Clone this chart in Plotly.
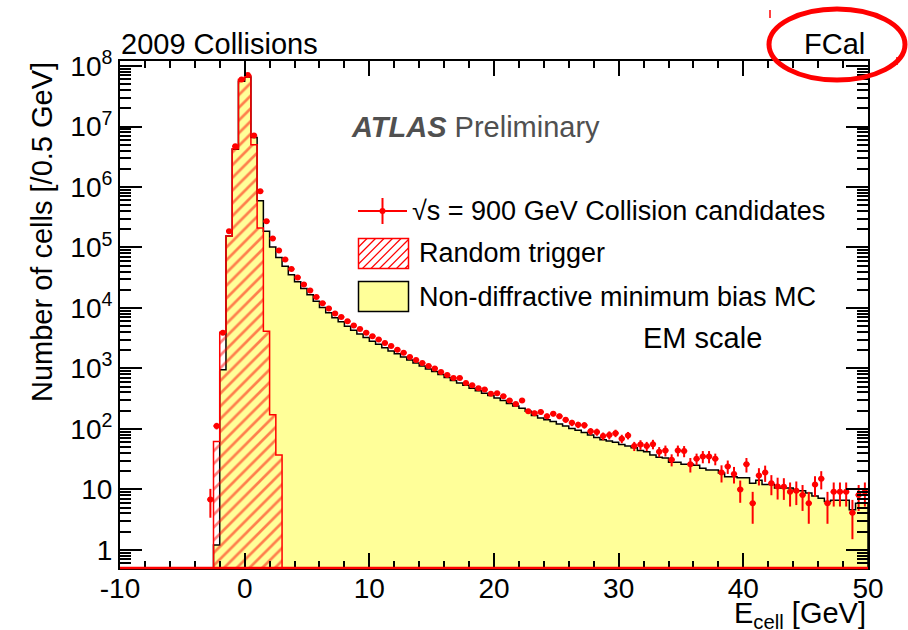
import numpy as np
import plotly.graph_objects as go

# ---------------- data ----------------
bin_width = 0.5

# Collision candidates, bins from -3.0 GeV to 50 GeV (0.5 GeV wide)
data_first_low = -3.0
data_counts = [
    6.8, 112, 3900, 1.86e5, 4.7e6, 6.0e7, 7.1e7, 7.1e6,
    8.5e5, 2.7e5, 1.41e5, 8.9e4, 6.3e4, 4.4e4, 3.2e4, 2.45e4, 1.95e4, 1.51e4,
    1.2e4, 9800, 8100, 7100, 6000, 5100, 4500, 3900, 3400, 3000,
    2630, 2340, 2040, 1820, 1550, 1380, 1230, 1100, 1000, 870,
    776, 692, 692, 575, 525, 468, 447, 380, 389, 347,
    295, 257, 295, 195, 182, 191, 162, 178, 162, 141,
    126, 117, 115, 91, 89, 76, 79, 85, 69, 78,
    52, 55, 52, 56, 42, 44, 31, 44, 43, 26,
    32, 35, 35, 32, 19, 24, 18, 10, 26, 5.9,
    17, 19, 12.6, 11.2, 11, 9.1, 9.5, 8.1, 5.9, 12,
    15, 5.9, 9.1, 9.1, 9.1, 4.1, 8.1, 9.1,
]
data_errors = [
    3.4, 14, 0, 0, 0, 0, 0, 0,
    0, 0, 0, 0, 0, 0, 0, 0, 0, 0,
    0, 0, 0, 0, 0, 0, 0, 0, 0, 0,
    0, 0, 0, 0, 0, 0, 0, 0, 0, 0,
    0, 0, 0, 0, 0, 0, 0, 0, 0, 0,
    22, 21, 22, 18, 18, 18, 17, 17, 17, 15,
    15, 14, 14, 12, 12, 11, 12, 12, 11, 11,
    9, 10, 9, 10, 8, 9, 7, 9, 9, 7,
    7, 8, 8, 7, 6, 6, 5.5, 4, 7, 3.2,
    5.4, 5.7, 4.6, 4.4, 4.3, 3.9, 4, 3.7, 3.2, 4.5,
    5, 3.2, 3.9, 3.9, 3.9, 2.6, 3.7, 3.9,
]

# Non-diffractive minimum bias MC, bins from -2.5 GeV to 50 GeV
mc_first_low = -2.5
mc_counts = [
    1.2, 950, 1.55e5, 4.2e6, 5.6e7, 6.6e7, 6.6e6,
    5.9e5, 1.86e5, 1.02e5, 6.8e4, 4.9e4, 3.55e4, 2.7e4, 2.09e4, 1.66e4, 1.29e4,
    1.02e4, 8300, 6900, 5900, 5000, 4270, 3720, 3240, 2820, 2510,
    2190, 1950, 1740, 1550, 1380, 1230, 1100, 977, 891, 794,
    708, 631, 575, 525, 468, 427, 389, 355, 324, 295,
    263, 240, 219, 195, 166, 151, 141, 132, 120, 112,
    102, 95, 87, 79, 72, 66, 63, 60, 55, 52,
    49, 44, 42, 37, 34, 33, 28, 28, 26, 26,
    25, 22.4, 21, 21, 18.6, 16.2, 16.2, 15.5, 15.5, 12.6,
    14.1, 12, 12, 10.5, 10.5, 10.5, 9.5, 9.5, 8.7, 7.8,
    7.1, 6.3, 6.6, 6.6, 6.6, 4.6, 5.9, 5.9,
]

# Random trigger, bins from -2.5 GeV to 3.0 GeV
rt_first_low = -2.5
rt_counts = [62, 3960, 1.55e5, 4.3e6, 6.0e7, 7.0e7, 5.0e6, 2.1e5, 4100, 172, 37]

x_tick_values = [-10, 0, 10, 20, 30, 40, 50]
x_tick_labels = ["-10", "0", "10", "20", "30", "40", "50"]
y_tick_values = [1, 10, 1e2, 1e3, 1e4, 1e5, 1e6, 1e7, 1e8]
y_tick_labels = ["1", "10", "10<sup>2</sup>", "10<sup>3</sup>", "10<sup>4</sup>",
                 "10<sup>5</sup>", "10<sup>6</sup>", "10<sup>7</sup>", "10<sup>8</sup>"]

# ---------------- styling helpers ----------------
FONT = "Liberation Sans, Arial, Helvetica, sans-serif"
YELLOW = "#ffff99"
RED = "#ff0000"

W, H = 908, 630
L, R, T, B = 120, 40, 61, 62
PW, PH = W - L - R, H - T - B


def px(x):  # pixel x -> paper
    return (x - L) / PW


def py(y):  # pixel y -> paper
    return (H - B - y) / PH


def step_outline(first_low, counts, floor=0.05):
    vals = list(counts)
    n = len(vals)
    edges = first_low + bin_width * np.arange(n + 1)
    xs = [edges[0]] + list(edges[:n]) + [edges[n], edges[n]]
    ys = [floor] + vals + [vals[-1], floor]
    return xs, ys


fig = go.Figure()

# MC filled histogram
mx, my = step_outline(mc_first_low, mc_counts)
fig.add_trace(go.Scatter(x=mx, y=my, mode="lines", line=dict(shape="hv", color="black", width=1.5),
                         fill="toself", fillcolor=YELLOW, hoverinfo="skip"))

# Random trigger hatched histogram
rx, ry = step_outline(rt_first_low, rt_counts)
fig.add_trace(go.Scatter(x=rx, y=ry, mode="lines", line=dict(shape="hv", color=RED, width=1.5),
                         fill="toself", fillcolor="rgba(0,0,0,0)",
                         fillpattern=dict(shape="/", fgcolor=RED, bgcolor="rgba(0,0,0,0)",
                                          size=9, solidity=0.3),
                         hoverinfo="skip"))

# Data points
data_centers = data_first_low + bin_width * (np.arange(len(data_counts)) + 0.5)
fig.add_trace(go.Scatter(
    x=data_centers, y=data_counts, mode="markers",
    marker=dict(symbol="circle", size=6, color=RED),
    error_y=dict(type="data", array=data_errors, color=RED, thickness=2, width=0),
    error_x=dict(type="constant", value=0.25, color=RED, thickness=2, width=0),
))

minor_vals = [m * 10.0 ** e for e in range(-1, 9) for m in range(2, 10)]
tickfont = dict(family=FONT, size=28, color="black")

fig.update_layout(
    width=W, height=H, margin=dict(l=L, r=R, t=T, b=B),
    paper_bgcolor="white", plot_bgcolor="white", showlegend=False,
    xaxis=dict(range=[-10, 50], tickmode="array", tickvals=x_tick_values, ticktext=x_tick_labels,
               ticks="inside", ticklen=15, tickwidth=1.5, ticklabelstandoff=-6,
               tickcolor="black", showline=True, linecolor="black", linewidth=2, mirror="ticks",
               showgrid=False, zeroline=False, tickfont=tickfont,
               minor=dict(ticks="inside", dtick=2, tick0=0, ticklen=7, tickwidth=1.5, tickcolor="black",
                          showgrid=False)),
    yaxis=dict(type="log", range=[-0.30, 8.083], tickmode="array", tickvals=y_tick_values,
               ticktext=y_tick_labels, ticks="inside", ticklen=22, tickwidth=1.5, tickcolor="black",
               showline=True, linecolor="black", linewidth=2, mirror="ticks", showgrid=False,
               zeroline=False, tickfont=tickfont,
               minor=dict(ticks="inside", tickmode="array", tickvals=minor_vals, ticklen=11,
                          tickwidth=1.5, tickcolor="black", showgrid=False)),
)

shapes = []
# red line along the bottom of the frame
shapes.append(dict(type="line", xref="paper", yref="paper", x0=0, x1=1, y0=0, y1=0,
                   line=dict(color=RED, width=2.5), layer="above"))
# red highlight ellipse around "FCal"
shapes.append(dict(type="circle", xref="paper", yref="paper", x0=px(769), x1=px(905),
                   y0=py(80), y1=py(9), line=dict(color=RED, width=5)))
shapes.append(dict(type="line", xref="paper", yref="paper", x0=px(770), x1=px(770),
                   y0=py(10), y1=py(18), line=dict(color=RED, width=1.5)))
shapes.append(dict(type="line", xref="paper", yref="paper", x0=px(897), x1=px(897),
                   y0=py(57), y1=py(65), line=dict(color=RED, width=1.5)))

# ---- legend (drawn by hand) ----
# data entry
shapes.append(dict(type="line", xref="paper", yref="paper", x0=px(358), x1=px(407),
                   y0=py(211), y1=py(211), line=dict(color=RED, width=2)))
shapes.append(dict(type="line", xref="paper", yref="paper", x0=px(382.5), x1=px(382.5),
                   y0=py(198), y1=py(224), line=dict(color=RED, width=2)))
shapes.append(dict(type="circle", xref="paper", yref="paper", x0=px(379.5), x1=px(385.5),
                   y0=py(214), y1=py(208), fillcolor=RED, line=dict(color=RED, width=0)))
# random trigger box with hatching
bx0, bx1, by0, by1 = 358.5, 408.5, 238.5, 268.5
shapes.append(dict(type="rect", xref="paper", yref="paper", x0=px(bx0), x1=px(bx1),
                   y0=py(by1), y1=py(by0), line=dict(color=RED, width=1.5)))
spacing = 8.5
c = bx0 - (by1 - by0)
while c < bx1:
    xa, ya = c, by1
    xb, yb = c + (by1 - by0), by0
    if xa < bx0:
        ya -= (bx0 - xa); xa = bx0
    if xb > bx1:
        yb += (xb - bx1); xb = bx1
    if xb > xa:
        shapes.append(dict(type="line", xref="paper", yref="paper", x0=px(xa), x1=px(xb),
                           y0=py(ya), y1=py(yb), line=dict(color=RED, width=1.2)))
    c += spacing
# MC box
shapes.append(dict(type="rect", xref="paper", yref="paper", x0=px(358.5), x1=px(408.5),
                   y0=py(311.5), y1=py(281.5), fillcolor=YELLOW, line=dict(color="black", width=1.5)))

annotations = [
    dict(text="2009 Collisions", x=px(119), y=py(44), xanchor="left", yanchor="middle"),
    dict(text="FCal", x=px(867), y=py(44), xanchor="right", yanchor="middle"),
    dict(text="<b><i>ATLAS</i></b> Preliminary", x=px(349), y=py(127), xanchor="left",
         yanchor="middle", font=dict(family=FONT, size=29, color="#505050")),
    dict(text="EM scale", x=px(641), y=py(338), xanchor="left", yanchor="middle"),
    dict(text="√s = 900 GeV Collision candidates", x=px(410), y=py(211), xanchor="left",
         yanchor="middle", font=dict(family=FONT, size=27, color="black")),
    dict(text="Random trigger", x=px(417), y=py(253), xanchor="left", yanchor="middle",
         font=dict(family=FONT, size=27, color="black")),
    dict(text="Non-diffractive minimum bias MC", x=px(417), y=py(296.5), xanchor="left",
         yanchor="middle", font=dict(family=FONT, size=27, color="black")),
    dict(text="Number of cells [/0.5 GeV]", textangle=-90, x=px(42), y=py(60),
         xanchor="center", yanchor="top"),
    dict(text="E<sub>cell</sub> [GeV]", x=px(868), y=py(615), xanchor="right", yanchor="middle"),
]
for a in annotations:
    a.setdefault("xref", "paper")
    a.setdefault("yref", "paper")
    a.setdefault("showarrow", False)
    a.setdefault("font", dict(family=FONT, size=29, color="black"))

fig.update_layout(shapes=shapes, annotations=annotations)
fig.write_html("out.html")
